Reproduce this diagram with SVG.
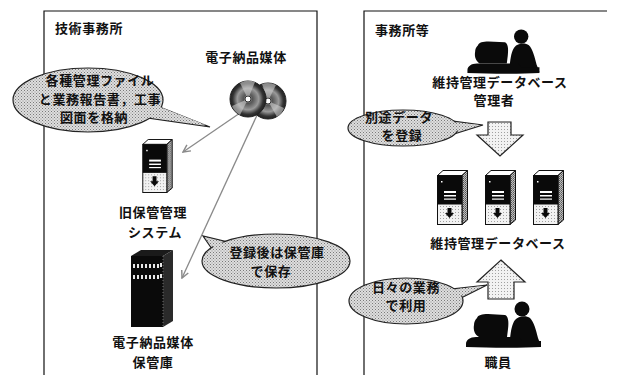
<svg xmlns="http://www.w3.org/2000/svg" xmlns:xlink="http://www.w3.org/1999/xlink" width="620" height="375" viewBox="0 0 620 375">
  <style>
    .frame { fill: none; stroke: #111; stroke-width: 1.2; }
    .t { font-family: "Noto Sans CJK JP", "Noto Sans", sans-serif; font-size: 13px; font-weight: bold; fill: #111; letter-spacing: 0.6px; }
    .c { text-anchor: middle; }
    .bubble { fill: url(#stipple); stroke: #222; stroke-width: 1.2; }
    .bubble-cover { fill: url(#stipple); stroke: none; }
    .link { stroke: #8a8a8a; stroke-width: 1.3; fill: none; marker-end: url(#head); }
    .block { fill: url(#stippleLight); stroke: #222; stroke-width: 1.2; }
    .ink { fill: #0a0a0a; }
  </style>
  <defs>
    <pattern id="stipple" width="3" height="3" patternUnits="userSpaceOnUse">
      <rect width="3" height="3" fill="#dedede"/>
      <rect x="0" y="0" width="1" height="1" fill="#7a7a7a"/>
      <rect x="1.5" y="1.5" width="1" height="1" fill="#8e8e8e"/>
    </pattern>
    <pattern id="stippleLight" width="3" height="3" patternUnits="userSpaceOnUse">
      <rect width="3" height="3" fill="#f2f2f2"/>
      <rect x="0" y="0" width="1" height="1" fill="#a0a0a0"/>
    </pattern>
    <pattern id="stippleDark" width="2" height="2" patternUnits="userSpaceOnUse">
      <rect width="2" height="2" fill="#bdbdbd"/>
      <rect x="0" y="0" width="1" height="1" fill="#555"/>
      <rect x="1" y="1" width="1" height="1" fill="#777"/>
    </pattern>
    <radialGradient id="disc" cx="50%" cy="50%" r="50%">
      <stop offset="0" stop-color="#ddd"/>
      <stop offset="0.25" stop-color="#555"/>
      <stop offset="0.6" stop-color="#999"/>
      <stop offset="0.85" stop-color="#333"/>
      <stop offset="1" stop-color="#222"/>
    </radialGradient>
    <marker id="head" viewBox="0 0 10 10" refX="9" refY="5" markerWidth="9" markerHeight="9" orient="auto" markerUnits="userSpaceOnUse">
      <path d="M1,1 L9,5 L1,9" fill="none" stroke="#8a8a8a" stroke-width="1.6"/>
    </marker>
    <!-- tower server, 31 x 55 -->
    <symbol id="server" viewBox="0 0 31 55" width="31" height="55">
      <polygon points="0.5,5.5 6,0.5 30.5,0.5 25,5.5" fill="#fff" stroke="#111" stroke-width="1"/>
      <polygon points="25,5.5 30.5,0.5 30.5,50 25,54.5" fill="url(#stippleDark)" stroke="#111" stroke-width="1"/>
      <rect x="0.5" y="5.5" width="24.5" height="49" fill="url(#stippleLight)" stroke="#111" stroke-width="1"/>
      <rect x="0.5" y="5.5" width="24.5" height="29" fill="#0a0a0a"/>
      <rect x="4" y="11" width="1.5" height="1.5" fill="#fff"/>
      <rect x="7" y="21" width="12" height="2" fill="#fff"/>
      <rect x="7" y="25" width="12" height="1.5" fill="#fff"/>
      <rect x="7" y="28.5" width="12" height="1.2" fill="#fff"/>
      <path d="M10.5,38 h4 v5 h2.5 l-4.5,5 l-4.5,-5 h2.5 z" fill="#0a0a0a"/>
    </symbol>
    <!-- person working at a monitor, 80 x 50 -->
    <symbol id="operator" viewBox="0 0 80 50" width="80" height="50">
      <!-- monitor -->
      <path class="ink" d="M15,19 C16,16 20,15 26,15 L43,16 C46,17 47,22 46,30 L45,38 L17,38 C13,36 11,31 12,26 C12,23 13,21 15,19 Z"/>
      <!-- head -->
      <circle class="ink" cx="60" cy="10" r="7.5"/>
      <!-- body -->
      <path class="ink" d="M53,21 C56,17 64,16 68,19 C72,23 74,31 76,39 L79,47 L50,47 L48,40 C49,31 50,25 53,21 Z"/>
      <!-- desk / keyboard -->
      <path class="ink" d="M4,45 C4,41 8,38 14,38 L57,38 L60,42 L79,42 L79,48 C60,49 30,49 4,48 Z"/>
    </symbol>
  </defs>

  <!-- office frames -->
  <g id="frames">
    <path class="frame" d="M44,375 V11 H317 V375"/>
    <path class="frame" d="M364,375 V11 H607"/>
  </g>

  <!-- connectors -->
  <g id="connectors">
    <line class="link" x1="240" y1="113" x2="183" y2="152"/>
    <line class="link" x1="258" y1="113" x2="182" y2="278"/>
    <polygon id="arrow-register" class="block" points="488,122 511,122 511,135 523,135 500,156 477,135 488,135"/>
    <polygon id="arrow-use" class="block" points="501,260 525,282 514,282 514,299 488,299 488,282 477,282"/>
  </g>

  <!-- left office -->
  <g id="office-left-title">
    <text class="t" x="55" y="33">技術事務所</text>
  </g>

  <g id="media">
    <circle cx="268" cy="101" r="18" fill="url(#disc)" stroke="#222" stroke-width="1"/>
    <path d="M268,101 L262,84 A18,18 0 0,1 276,85 Z M268,101 L284,108 A18,18 0 0,1 277,117 Z" fill="#cfcfcf" opacity="0.6"/>
    <circle cx="268" cy="101" r="3" fill="#fff" stroke="#333" stroke-width="1"/>
    <circle cx="248" cy="99" r="18" fill="url(#disc)" stroke="#222" stroke-width="1"/>
    <path d="M248,99 L240,83 A18,18 0 0,1 255,82 Z M248,99 L232,106 A18,18 0 0,0 240,115 Z" fill="#cfcfcf" opacity="0.6"/>
    <circle cx="248" cy="99" r="3" fill="#fff" stroke="#333" stroke-width="1"/>
    <text class="t c" x="246" y="62">電子納品媒体</text>
  </g>

  <g id="bubble-store">
    <polygon class="bubble" points="148,118 157,106 210,127"/>
    <ellipse class="bubble" cx="88" cy="100" rx="75" ry="32"/>
    <polygon class="bubble-cover" points="146,117 155,105 206,125"/>
    <text class="t c" x="100" y="85">各種管理ファイル</text>
    <text class="t c" x="100" y="104">と業務報告書，工事</text>
    <text class="t c" x="94" y="122">図面を格納</text>
  </g>

  <g id="old-system">
    <use xlink:href="#server" x="142" y="139" width="31" height="54"/>
    <text class="t c" x="153" y="217">旧保管管理</text>
    <text class="t c" x="155" y="237">システム</text>
  </g>

  <g id="bubble-keep">
    <polygon class="bubble" points="214,252 228,242 203,236"/>
    <ellipse class="bubble" cx="276" cy="261" rx="74" ry="27"/>
    <polygon class="bubble-cover" points="216,251 228,244 207,238"/>
    <text class="t c" x="277" y="257">登録後は保管庫</text>
    <text class="t c" x="271" y="276">で保存</text>
  </g>

  <g id="media-cabinet">
    <polygon points="131,256 141,250 173,250 163,256" fill="#1a1a1a"/>
    <polygon points="163,256 173,250 173,321 163,327" fill="#2a2a2a"/>
    <rect x="131" y="256" width="32" height="71" fill="#0a0a0a"/>
    <line x1="163" y1="256" x2="163" y2="327" stroke="#888" stroke-width="0.8" stroke-dasharray="1 2"/>
    <g fill="#e8e8e8">
      <rect x="133" y="264" width="2" height="4"/><rect x="137" y="264" width="2" height="4"/>
      <rect x="141" y="264" width="2" height="4"/><rect x="145" y="264" width="2" height="4"/>
      <rect x="149" y="264" width="2" height="4"/><rect x="153" y="264" width="2" height="4"/>
      <rect x="157" y="264" width="2" height="4"/><rect x="160" y="263" width="2" height="4"/>
      <rect x="133" y="275" width="2" height="4"/><rect x="137" y="275" width="2" height="4"/>
      <rect x="141" y="275" width="2" height="4"/><rect x="145" y="275" width="2" height="4"/>
      <rect x="149" y="275" width="2" height="4"/><rect x="153" y="275" width="2" height="4"/>
      <rect x="157" y="275" width="2" height="4"/><rect x="160" y="274" width="2" height="4"/>
    </g>
    <text class="t c" x="153" y="347">電子納品媒体</text>
    <text class="t c" x="153" y="367">保管庫</text>
  </g>

  <!-- right office -->
  <g id="office-right-title">
    <text class="t" x="375" y="35">事務所等</text>
  </g>

  <g id="db-admin">
    <use xlink:href="#operator" x="462" y="27" width="80" height="48"/>
    <text class="t c" x="500" y="87">維持管理データベース</text>
    <text class="t c" x="494" y="105">管理者</text>
  </g>

  <g id="bubble-register">
    <polygon class="bubble" points="452,121 454,134 483,125"/>
    <ellipse class="bubble" cx="403" cy="128" rx="55" ry="18"/>
    <polygon class="bubble-cover" points="450,122 452,132 479,125"/>
    <text class="t c" x="399" y="122">別途データ</text>
    <text class="t c" x="402" y="140">を登録</text>
  </g>

  <g id="maintenance-db">
    <use xlink:href="#server" x="437" y="170" width="31" height="55"/>
    <use xlink:href="#server" x="485" y="170" width="31" height="55"/>
    <use xlink:href="#server" x="533" y="170" width="31" height="55"/>
    <text class="t c" x="498" y="248">維持管理データベース</text>
  </g>

  <g id="bubble-daily">
    <polygon class="bubble" points="452,289 461,298 487,285"/>
    <ellipse class="bubble" cx="406" cy="301" rx="57" ry="23"/>
    <polygon class="bubble-cover" points="450,290 458,297 483,286"/>
    <text class="t c" x="406" y="292">日々の業務</text>
    <text class="t c" x="406" y="310">で利用</text>
  </g>

  <g id="staff">
    <use xlink:href="#operator" x="462" y="299" width="80" height="50"/>
    <text class="t c" x="498" y="367">職員</text>
  </g>
</svg>
